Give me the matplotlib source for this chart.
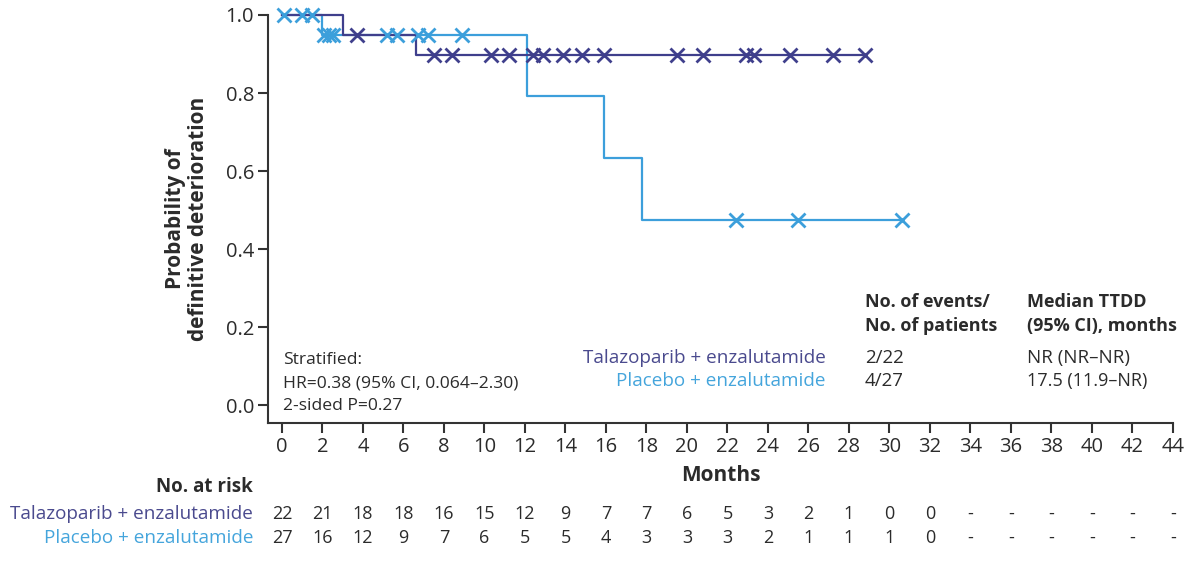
import numpy as np
import matplotlib
matplotlib.use("Agg")
import matplotlib.pyplot as plt
import matplotlib.transforms as mtransforms

plt.rcParams['font.family'] = ['Open Sans', 'DejaVu Sans']
plt.rcParams['axes.unicode_minus'] = False

# KM step data (months, probability)
tal_step_x = [0, 3.0, 6.6, 28.8]
tal_step_y = [1.0, 0.95, 0.897, 0.897]
tal_censor = [3.7, 7.5, 8.4, 10.3, 11.2, 12.4, 12.9, 13.9, 14.8, 15.9,
              19.5, 20.8, 22.9, 23.3, 25.1, 27.2, 28.8]

plac_step_x = [0, 2.0, 12.1, 15.9, 17.8, 30.6]
plac_step_y = [1.0, 0.95, 0.792, 0.633, 0.475, 0.475]
plac_censor = [0.1, 1.0, 1.5, 2.1, 2.3, 2.5, 5.2, 5.7, 6.7, 7.2, 8.9,
               22.4, 25.5, 30.6]

# numbers at risk
risk_ticks = list(range(0, 45, 2))
tal_risk = ['22', '21', '18', '18', '16', '15', '12', '9', '7', '7', '6', '5',
            '3', '2', '1', '0', '0', '-', '-', '-', '-', '-', '-']
plac_risk = ['27', '16', '12', '9', '7', '6', '5', '5', '4', '3', '3', '3',
             '2', '1', '1', '1', '0', '-', '-', '-', '-', '-', '-']

arm_names = ['Talazoparib + enzalutamide', 'Placebo + enzalutamide']
events = ['2/22', '4/27']
medians = ['NR (NR\u2013NR)', '17.5 (11.9\u2013NR)']

dark = '#3f3f8c'
light = '#3c9fdb'
dark_txt = '#4a4a8e'
light_txt = '#45a5dc'
txt = '#2b2b2b'

W, H = 1200, 563
fig = plt.figure(figsize=(12, 5.63), dpi=100)
ax = fig.add_axes([268 / W, 1 - 423 / H, (1173 - 268) / W, (423 - 15) / H])


def step_val(xs, ys, t):
    idx = np.searchsorted(xs, t, side='right') - 1
    return np.array(ys)[idx]


# lines
ax.plot(plac_step_x, plac_step_y, drawstyle='steps-post', color=light,
        lw=1.6, zorder=2, clip_on=False)
ax.plot(tal_step_x, tal_step_y, drawstyle='steps-post', color=dark,
        lw=1.6, zorder=3, clip_on=False)
# censor marks
ax.plot(plac_censor, step_val(plac_step_x, plac_step_y, plac_censor), 'x',
        color=light, ms=10, mew=2, zorder=4, clip_on=False)
ax.plot(tal_censor, step_val(tal_step_x, tal_step_y, tal_censor), 'x',
        color=dark, ms=10, mew=2, zorder=5, clip_on=False)

ax.set_xlim(-0.69, 44)
ax.set_ylim(-0.046, 1.0)
ax.set_xticks(risk_ticks)
ax.set_yticks([0, 0.2, 0.4, 0.6, 0.8, 1.0])
ax.set_yticklabels(['0.0', '0.2', '0.4', '0.6', '0.8', '1.0'])
ax.spines['top'].set_visible(False)
ax.spines['right'].set_visible(False)
for s in ['left', 'bottom']:
    ax.spines[s].set_color('#333333')
    ax.spines[s].set_linewidth(1.5)
ax.tick_params(direction='out', length=7, width=1.5, color='#333333',
               labelsize=14.5, labelcolor=txt, pad=3)

ax.set_xlabel('Months', fontsize=15, fontweight='bold', color=txt, labelpad=6)
ax.set_ylabel('Probability of\ndefinitive deterioration', fontsize=15,
              fontweight='bold', color=txt, labelpad=12, linespacing=1.1)


def ftext(x, y, s, **kw):
    fig.text(x / W, 1 - y / H, s, va='center', **kw)


# stats annotation
ftext(283, 360, 'Stratified:', fontsize=12.6, color=txt)
ftext(283, 383, 'HR=0.38 (95% CI, 0.064\u20132.30)', fontsize=12.6, color=txt)
ftext(283, 406, '2-sided P=0.27', fontsize=12.6, color=txt)

ftext(826, 358, arm_names[0], fontsize=13.6, color=dark_txt, ha='right')
ftext(826, 381, arm_names[1], fontsize=13.6, color=light_txt, ha='right')
ftext(865, 302, 'No. of events/', fontsize=13, color=txt, fontweight='bold')
ftext(865, 326, 'No. of patients', fontsize=13, color=txt, fontweight='bold')
ftext(865, 358, events[0], fontsize=13.5, color=txt)
ftext(865, 381, events[1], fontsize=13.5, color=txt)
ftext(1027, 302, 'Median TTDD', fontsize=13, color=txt, fontweight='bold')
ftext(1027, 326, '(95% CI), months', fontsize=13, color=txt, fontweight='bold')
ftext(1027, 358, medians[0], fontsize=13.5, color=txt)
ftext(1027, 381, medians[1], fontsize=13, color=txt)

# at-risk table
ftext(253, 487, 'No. at risk', fontsize=13.5, color=txt, fontweight='bold', ha='right')
ftext(253, 514, arm_names[0], fontsize=13.6, color=dark_txt, ha='right')
ftext(253, 538, arm_names[1], fontsize=13.6, color=light_txt, ha='right')
trans = mtransforms.blended_transform_factory(ax.transData, fig.transFigure)
for t, a, b in zip(risk_ticks, tal_risk, plac_risk):
    ax.text(t, 1 - 514 / H, a, transform=trans, ha='center', va='center',
            fontsize=13, color=txt)
    ax.text(t, 1 - 538 / H, b, transform=trans, ha='center', va='center',
            fontsize=13, color=txt)

fig.savefig('out.png', dpi=100)
